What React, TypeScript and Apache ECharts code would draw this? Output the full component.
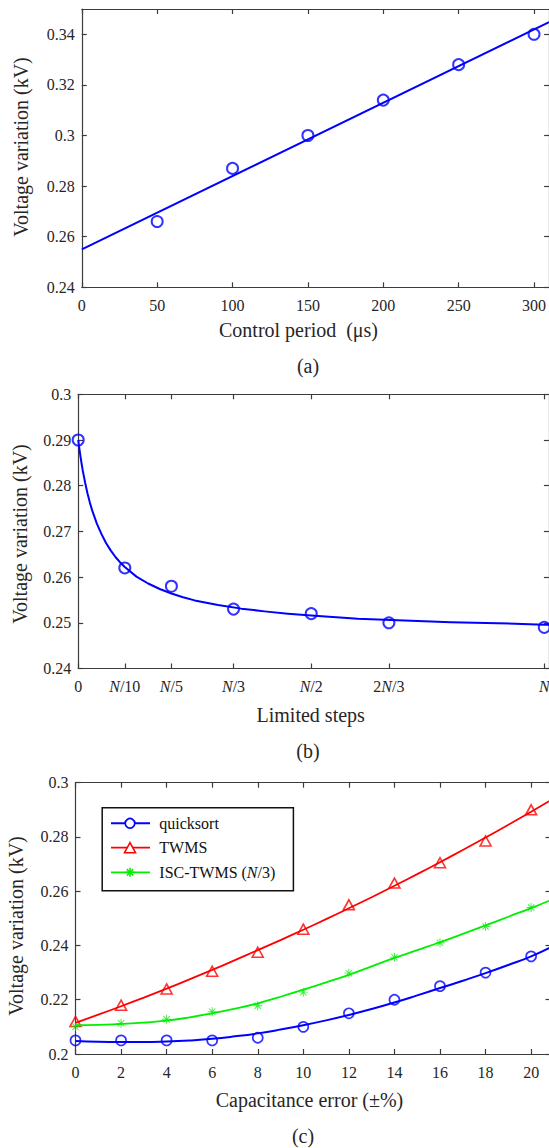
import React, { useEffect, useRef } from "react";
import * as echarts from "echarts";

// ---------- Panel (a): voltage variation vs control period ----------
const periodX = [50, 100, 150, 200, 250, 300];
const periodV = [0.266, 0.287, 0.3, 0.314, 0.328, 0.34];
const periodFitX = [0, 310];
const periodFitV = [0.255, 0.3448];
const periodTicks = [0, 50, 100, 150, 200, 250, 300];
const periodYTicks = [0.24, 0.26, 0.28, 0.3, 0.32, 0.34];

// ---------- Panel (b): voltage variation vs limited steps ----------
const stepX = [0, 0.1, 0.2, 1 / 3, 0.5, 2 / 3, 1];
const stepLabels = ["0", "{i|N}/10", "{i|N}/5", "{i|N}/3", "{i|N}/2", "2{i|N}/3", "{i|N}"];
const stepV = [0.29, 0.262, 0.258, 0.253, 0.252, 0.25, 0.249];
const stepFitX = [0, 0.0025, 0.005, 0.0075, 0.01, 0.015, 0.02, 0.025, 0.03, 0.04, 0.05, 0.06, 0.07, 0.08, 0.09, 0.1, 0.125, 0.15, 0.175, 0.2, 0.225, 0.25, 0.275, 0.3, 0.35, 0.4, 0.45, 0.5, 0.6, 0.7, 0.8, 0.9, 1.0, 1.015];
const stepFitV = [0.29, 0.2881, 0.2863, 0.2847, 0.2832, 0.2806, 0.2783, 0.2763, 0.2746, 0.2717, 0.2694, 0.2674, 0.2658, 0.2644, 0.2632, 0.2622, 0.2601, 0.2586, 0.2574, 0.2564, 0.2556, 0.2549, 0.2544, 0.2539, 0.2531, 0.2525, 0.252, 0.2516, 0.2509, 0.2505, 0.2501, 0.2499, 0.2496, 0.2496];
const stepYTicks = [0.24, 0.25, 0.26, 0.27, 0.28, 0.29, 0.3];

// ---------- Panel (c): voltage variation vs capacitance error ----------
const errX = [0, 2, 4, 6, 8, 10, 12, 14, 16, 18, 20];
const quickV = [0.205, 0.205, 0.205, 0.205, 0.206, 0.21, 0.215, 0.22, 0.225, 0.23, 0.236];
const twmsV = [0.212, 0.218, 0.224, 0.2305, 0.2375, 0.246, 0.255, 0.263, 0.2705, 0.2785, 0.29];
const iscV = [0.21, 0.2113, 0.2128, 0.2156, 0.2178, 0.2228, 0.2298, 0.2357, 0.241, 0.247, 0.254];
const errFitX = [0, 1, 2, 3, 4, 5, 6, 7, 8, 9, 10, 11, 12, 13, 14, 15, 16, 17, 18, 19, 20, 21];
const quickFit = [0.2048, 0.2045, 0.2044, 0.2044, 0.2046, 0.205, 0.2056, 0.2065, 0.2076, 0.209, 0.2106, 0.2124, 0.2144, 0.2166, 0.219, 0.2216, 0.2243, 0.227, 0.2298, 0.2328, 0.236, 0.24];
const twmsFit = [0.2115, 0.2145, 0.2176, 0.2208, 0.2241, 0.2275, 0.231, 0.2346, 0.2383, 0.242, 0.2458, 0.2497, 0.2537, 0.2578, 0.262, 0.2663, 0.2707, 0.2752, 0.2798, 0.2845, 0.2893, 0.2942];
const iscFit = [0.2106, 0.2107, 0.2111, 0.2116, 0.2123, 0.2135, 0.215, 0.2167, 0.2187, 0.2211, 0.2237, 0.2264, 0.2292, 0.2323, 0.2354, 0.2383, 0.2412, 0.2443, 0.2474, 0.2506, 0.2538, 0.2572];
const errYTicks = [0.2, 0.22, 0.24, 0.26, 0.28, 0.3];
const legendNames = ["quicksort", "TWMS", "ISC-TWMS ({i|N}/3)"];

const FONT = '"Liberation Serif", "Times New Roman", serif';
const AXIS = "#3c3c3c";
const TXT = "#262626";
const BLUE = "#0000ff";
const RED = "#ff0000";
const GREEN = "#00ee00";
const STAR = "path://M9 0h2v20h-2zM0 9h20v2H0zM2.22 3.64L3.64 2.22L17.78 16.36L16.36 17.78zM16.36 2.22L17.78 3.64L3.64 17.78L2.22 16.36z";

const numFmt = (v: number) => String(Number(v.toFixed(3)));
const italicRich = { i: { fontStyle: "italic", fontFamily: FONT, fontSize: 16, color: TXT } };

function axisPair(kind: "x" | "y", grid: number, min: number, max: number, ticks: number[], formatter: any, rich?: any) {
  const common = {
    type: "value",
    gridIndex: grid,
    min,
    max,
    splitLine: { show: false },
    axisLine: { show: true, onZero: false, lineStyle: { color: AXIS, width: 1.2 } },
    axisTick: { show: true, inside: true, length: 5, customValues: ticks, lineStyle: { color: AXIS, width: 1.2 } },
  };
  const main = {
    ...common,
    position: kind === "x" ? "bottom" : "left",
    axisLabel: {
      show: true,
      customValues: ticks,
      margin: kind === "x" ? 10 : 7,
      formatter,
      color: TXT,
      fontSize: 16,
      fontFamily: FONT,
      rich,
    },
  };
  const mirror = {
    ...common,
    position: kind === "x" ? "top" : "right",
    axisLabel: { show: false },
  };
  return [main, mirror];
}

function pts(xs: number[], vs: number[]) {
  return xs.map((x, i) => [x, vs[i]]);
}

function gtext(text: string, x: number, y: number, size: number, rotation = 0, rich?: any) {
  return {
    type: "text",
    x,
    y,
    rotation,
    z: 100,
    style: {
      text,
      fill: TXT,
      fontSize: size,
      fontFamily: FONT,
      align: "center",
      verticalAlign: "middle",
      textAlign: "center",
      textVerticalAlign: "middle",
      rich,
    },
  };
}

export default function App() {
  const ref = useRef<HTMLDivElement>(null);
  useEffect(() => {
    if (!ref.current) return;
    const chart = echarts.init(ref.current, undefined, { renderer: "svg" });

    const stepFmt = (v: number) => {
      let best = 0;
      for (let i = 0; i < stepX.length; i++) if (Math.abs(stepX[i] - v) < Math.abs(stepX[best] - v)) best = i;
      return stepLabels[best];
    };

    const [ax0, ax1] = axisPair("x", 0, 0, 310, periodTicks, numFmt);
    const [ay0, ay1] = axisPair("y", 0, 0.24, 0.35, periodYTicks, numFmt);
    const [bx0, bx1] = axisPair("x", 1, 0, 1.01, stepX, stepFmt, italicRich);
    const [by0, by1] = axisPair("y", 1, 0.24, 0.3, stepYTicks, numFmt);
    const [cx0, cx1] = axisPair("x", 2, 0, 20.85, errX, numFmt);
    const [cy0, cy1] = axisPair("y", 2, 0.2, 0.3, errYTicks, numFmt);

    const lx1 = 111, lx2 = 150, lmx = 130;
    const ly = [823.3, 847.7, 872.3];

    const option: any = {
      animation: false,
      backgroundColor: "#ffffff",
      grid: [
        { left: 81.8, top: 9, width: 467.3, height: 278.3 },
        { left: 78.2, top: 394.3, width: 470.7, height: 274.2 },
        { left: 75.5, top: 782.7, width: 475, height: 271.3 },
      ],
      xAxis: [ax0, ax1, bx0, bx1, cx0, cx1],
      yAxis: [ay0, ay1, by0, by1, cy0, cy1],
      series: [
        { type: "line", name: "fit (a)", xAxisIndex: 0, yAxisIndex: 0, data: pts(periodFitX, periodFitV), symbol: "none", lineStyle: { color: BLUE, width: 2 } },
        { type: "scatter", name: "period", xAxisIndex: 0, yAxisIndex: 0, data: pts(periodX, periodV), symbol: "circle", symbolSize: 11, itemStyle: { color: "rgba(0,0,0,0)", borderColor: BLUE, borderWidth: 2 } },

        { type: "line", name: "fit (b)", xAxisIndex: 2, yAxisIndex: 2, data: pts(stepFitX, stepFitV), symbol: "none", smooth: false, lineStyle: { color: BLUE, width: 2, join: "round" } },
        { type: "scatter", name: "steps", xAxisIndex: 2, yAxisIndex: 2, data: pts(stepX, stepV), symbol: "circle", symbolSize: 11, itemStyle: { color: "rgba(0,0,0,0)", borderColor: BLUE, borderWidth: 2 } },

        { type: "line", name: "quicksort fit", xAxisIndex: 4, yAxisIndex: 4, data: pts(errFitX, quickFit), symbol: "none", smooth: true, lineStyle: { color: BLUE, width: 2 } },
        { type: "line", name: "TWMS fit", xAxisIndex: 4, yAxisIndex: 4, data: pts(errFitX, twmsFit), symbol: "none", smooth: true, lineStyle: { color: RED, width: 1.8 } },
        { type: "line", name: "ISC fit", xAxisIndex: 4, yAxisIndex: 4, data: pts(errFitX, iscFit), symbol: "none", smooth: true, lineStyle: { color: GREEN, width: 1.8 } },
        { type: "scatter", name: "quicksort", xAxisIndex: 4, yAxisIndex: 4, data: pts(errX, quickV), symbol: "circle", symbolSize: 10, itemStyle: { color: "rgba(0,0,0,0)", borderColor: BLUE, borderWidth: 1.7 } },
        { type: "scatter", name: "TWMS", xAxisIndex: 4, yAxisIndex: 4, data: pts(errX, twmsV), symbol: "triangle", symbolSize: [11, 10], itemStyle: { color: "rgba(0,0,0,0)", borderColor: RED, borderWidth: 1.6 } },
        { type: "scatter", name: "ISC-TWMS", xAxisIndex: 4, yAxisIndex: 4, data: pts(errX, iscV), symbol: STAR, symbolSize: 9, itemStyle: { color: GREEN, borderWidth: 0 } },
      ],
      graphic: [
        gtext("Voltage variation (kV)", 21, 147, 20, Math.PI / 2),
        gtext("Control period  (\u03bcs)", 298.5, 330, 20),
        gtext("(a)", 308, 366, 20),
        gtext("Voltage variation (kV)", 19.5, 534, 20, Math.PI / 2),
        gtext("Limited steps", 310.7, 715, 20),
        gtext("(b)", 308, 751, 20),
        gtext("Voltage variation (kV)", 16, 926, 20, Math.PI / 2),
        gtext("Capacitance error (\u00b1%)", 309.5, 1100, 20),
        gtext("(c)", 303, 1136, 20),
        // legend box
        { type: "rect", z: 100, shape: { x: 102.2, y: 807.7, width: 191.2, height: 83 }, style: { fill: "#ffffff", stroke: "#111111", lineWidth: 1.5 } },
        { type: "line", z: 101, shape: { x1: lx1, y1: ly[0], x2: lx2, y2: ly[0] }, style: { stroke: BLUE, lineWidth: 2 } },
        { type: "circle", z: 102, shape: { cx: lmx, cy: ly[0], r: 4.8 }, style: { fill: "#ffffff", stroke: BLUE, lineWidth: 1.7 } },
        { type: "line", z: 101, shape: { x1: lx1, y1: ly[1], x2: lx2, y2: ly[1] }, style: { stroke: RED, lineWidth: 1.8 } },
        { type: "polygon", z: 102, shape: { points: [[lmx, ly[1] - 5], [lmx + 5.5, ly[1] + 5], [lmx - 5.5, ly[1] + 5]] }, style: { fill: "#ffffff", stroke: RED, lineWidth: 1.6 } },
        { type: "line", z: 101, shape: { x1: lx1, y1: ly[2], x2: lx2, y2: ly[2] }, style: { stroke: GREEN, lineWidth: 1.8 } },
        { type: "line", z: 102, shape: { x1: lmx, y1: ly[2] - 4.5, x2: lmx, y2: ly[2] + 4.5 }, style: { stroke: GREEN, lineWidth: 1.6 } },
        { type: "line", z: 102, shape: { x1: lmx - 4.5, y1: ly[2], x2: lmx + 4.5, y2: ly[2] }, style: { stroke: GREEN, lineWidth: 1.6 } },
        { type: "line", z: 102, shape: { x1: lmx - 3.2, y1: ly[2] - 3.2, x2: lmx + 3.2, y2: ly[2] + 3.2 }, style: { stroke: GREEN, lineWidth: 1.6 } },
        { type: "line", z: 102, shape: { x1: lmx + 3.2, y1: ly[2] - 3.2, x2: lmx - 3.2, y2: ly[2] + 3.2 }, style: { stroke: GREEN, lineWidth: 1.6 } },
        { type: "text", z: 102, x: 159.3, y: ly[0], style: { text: legendNames[0], fill: "#111", fontSize: 16, fontFamily: FONT, align: "left", verticalAlign: "middle", textAlign: "left", textVerticalAlign: "middle" } },
        { type: "text", z: 102, x: 159.3, y: ly[1], style: { text: legendNames[1], fill: "#111", fontSize: 16, fontFamily: FONT, align: "left", verticalAlign: "middle", textAlign: "left", textVerticalAlign: "middle" } },
        { type: "text", z: 102, x: 159.3, y: ly[2], style: { text: legendNames[2], fill: "#111", fontSize: 16, fontFamily: FONT, align: "left", verticalAlign: "middle", textAlign: "left", textVerticalAlign: "middle", rich: { i: { fontStyle: "italic", fontSize: 16, fontFamily: FONT, fill: "#111" } } } },
      ],
    };
    chart.setOption(option);
    return () => chart.dispose();
  }, []);

  return (
    <div style={{ position: "absolute", left: 0, top: 0, width: 549, height: 1148, overflow: "hidden", background: "#fff" }}>
      <div ref={ref} style={{ width: 570, height: 1148 }} />
    </div>
  );
}
